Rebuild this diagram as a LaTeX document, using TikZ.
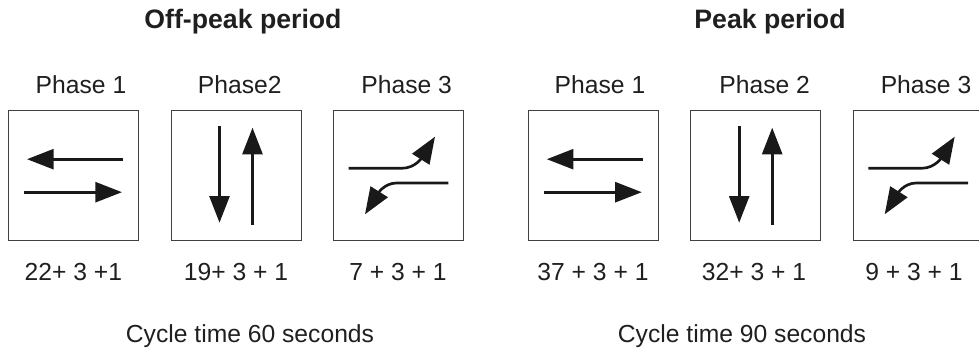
\documentclass[tikz,border=0pt]{standalone}
\usepackage{fontspec}
\setmainfont{Liberation Sans}
\usetikzlibrary{arrows.meta}

\tikzset{
  phasebox/.style={draw=black!75, line width=0.75pt, minimum width=97.5pt, minimum height=97.5pt, inner sep=0pt},
  flow/.style={line width=2pt, color=black!90, -{Triangle[length=20pt,width=15pt]}},
  txt/.style={anchor=base, inner sep=0pt, text=black!88, font=\fontsize{18.5}{22}\selectfont},
  title/.style={txt, font=\fontsize{20}{24}\selectfont\bfseries},
  % opposing through movements, east-west
  ewpair/.pic={
    \draw[flow] (49.5,-16.5) -- (-46.5,-16.5);
    \draw[flow] (-49.5,16.5) -- (48.5,16.5);
  },
  % opposing through movements, north-south
  nspair/.pic={
    \draw[flow] (-16.5,-50) -- (-16.5,47);
    \draw[flow] (16.5,49.5) -- (16.5,-48);
  },
  % protected left turns
  turnpair/.pic={
    \draw[flow] (-49.6,-7.4) -- (3.4,-7.4) .. controls (18,-7.4) and (24.7,-20) .. (36.7,-39);
    \draw[flow] (50,7.3) -- (-1.6,7.3) .. controls (-15,7.3) and (-21.3,19.6) .. (-33.3,38.6);
  }
}

\begin{document}
\begin{tikzpicture}[x=0.75pt,y=-0.75pt]
\useasboundingbox (0,0) rectangle (979,352);

% Titles
\node[title] (offtitle) at (243,29) {Off-peak period};
\node[title] (peaktitle) at (770,29) {Peak period};

% Phase boxes
\node[phasebox] (off1) at (73.5,175.7) {};
\node[phasebox] (off2) at (236,175.7) {};
\node[phasebox] (off3) at (398.3,175.7) {};
\node[phasebox] (peak1) at (593.3,175.7) {};
\node[phasebox] (peak2) at (755.7,175.7) {};
\node[phasebox] (peak3) at (918,175.7) {};

% Movements
\pic at (off1.center) {ewpair};
\pic at (off2.center) {nspair};
\pic at (off3.center) {turnpair};
\pic at (peak1.center) {ewpair};
\pic at (peak2.center) {nspair};
\pic at (peak3.center) {turnpair};

% Phase names
\node[txt] (offlab1) at (81,94) {Phase 1};
\node[txt] (offlab2) at (239.7,94) {Phase2};
\node[txt] (offlab3) at (406.7,94) {Phase 3};
\node[txt] (peaklab1) at (600,94) {Phase 1};
\node[txt] (peaklab2) at (764.7,94) {Phase 2};
\node[txt] (peaklab3) at (926,94) {Phase 3};

% Green + amber + all red
\node[txt] (offtime1) at (73.4,281) {22+ 3 +1};
\node[txt] (offtime2) at (236,281) {19+ 3 + 1};
\node[txt] (offtime3) at (398,281) {7 + 3 + 1};
\node[txt] (peaktime1) at (593,281) {37 + 3 + 1};
\node[txt] (peaktime2) at (754,281) {32+ 3 + 1};
\node[txt] (peaktime3) at (914,281) {9 + 3 + 1};

% Cycle lengths
\node[txt] (offcycle) at (250,343) {Cycle time 60 seconds};
\node[txt] (peakcycle) at (742,343) {Cycle time 90 seconds};

\end{tikzpicture}
\end{document}
